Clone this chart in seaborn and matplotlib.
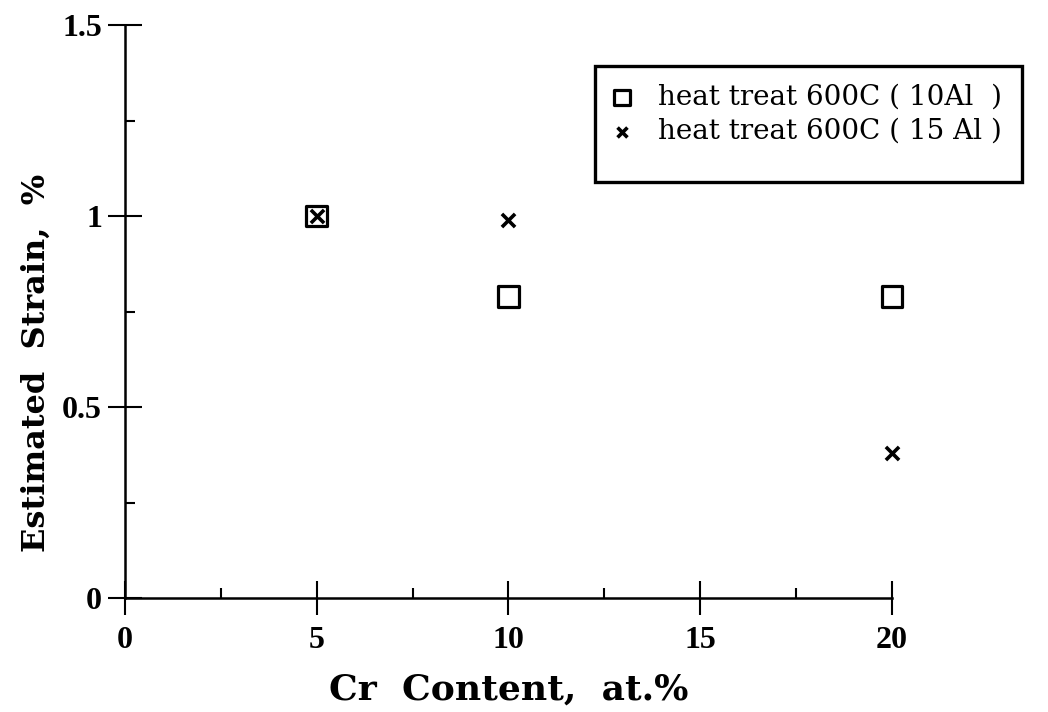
import matplotlib
matplotlib.use("Agg")
import matplotlib.pyplot as plt
import seaborn as sns
import pandas as pd
from matplotlib.ticker import MultipleLocator
from matplotlib.patches import Rectangle

# Data
cr_content = [5, 10, 20]
strain_10al = [1.0, 0.79, 0.79]
strain_15al = [1.0, 0.99, 0.38]
label_10al = "heat treat 600C ( 10Al  )"
label_15al = "heat treat 600C ( 15 Al )"
x_ticks = [0, 5, 10, 15, 20]
y_ticks = [0, 0.5, 1, 1.5]
y_ticklabels = ["0", "0.5", "1", "1.5"]

sns.set_theme(style="white")
plt.rcParams['font.family'] = ['Liberation Serif', 'DejaVu Serif']
plt.rcParams['text.color'] = 'black'
plt.rcParams['axes.labelcolor'] = 'black'

fig = plt.figure(figsize=(10.48, 7.12), dpi=100)
ax = fig.add_axes([125/1048, 1 - 598/712, (892-125)/1048, (598-25)/712])

df10 = pd.DataFrame({"x": cr_content, "y": strain_10al})
df15 = pd.DataFrame({"x": cr_content, "y": strain_15al})

sns.scatterplot(data=df10, x="x", y="y", ax=ax, marker="s", s=220,
                facecolors="none", edgecolor="black", linewidth=2.3,
                label=label_10al, clip_on=False, zorder=3)
sns.scatterplot(data=df15, x="x", y="y", ax=ax, marker="x", s=90,
                color="black", linewidth=2.6,
                label=label_15al, clip_on=False, zorder=4)

ax.set_xlim(0, 20)
ax.set_ylim(0, 1.5)
ax.set_xticks(x_ticks)
ax.set_xticklabels([str(t) for t in x_ticks])
ax.set_yticks(y_ticks)
ax.set_yticklabels(y_ticklabels)
ax.xaxis.set_minor_locator(MultipleLocator(2.5))
ax.yaxis.set_minor_locator(MultipleLocator(0.25))

for side in ["top", "right"]:
    ax.spines[side].set_visible(False)
for side in ["left", "bottom"]:
    ax.spines[side].set_color("black")
    ax.spines[side].set_linewidth(1.8)

ax.tick_params(axis="both", which="major", direction="inout", length=25,
               width=1.5, color="black", labelsize=23, labelcolor="black")
ax.tick_params(axis="x", which="major", pad=8)
ax.tick_params(axis="y", which="major", pad=4)
ax.tick_params(axis="both", which="minor", direction="in", length=7,
               width=1.5, color="black")
ax.tick_params(bottom=True, left=True, which="both")
for lab in ax.get_xticklabels() + ax.get_yticklabels():
    lab.set_fontfamily("Liberation Serif")
    lab.set_fontweight("bold")

ax.set_xlabel("Cr  Content,  at.%", fontsize=26, fontweight="bold",
              family="DejaVu Serif", labelpad=12, color="black")
ax.set_ylabel("Estimated  Strain,  %", fontsize=23, fontweight="bold",
              family="DejaVu Serif", color="black")
ax.yaxis.set_label_coords(-0.095, 0.41)

# legend (frame drawn separately below)
leg = ax.legend(loc="upper left", bbox_to_anchor=(609/1048, 1 - 84/712),
                bbox_transform=fig.transFigure, frameon=False,
                prop={"family": "DejaVu Serif", "size": 20},
                borderpad=0, handlelength=0.95, handletextpad=0.8,
                labelspacing=0.25, borderaxespad=0, markerscale=0.75)
for t in leg.get_texts():
    t.set_color("black")

fig.patches.append(Rectangle((595/1048, 1 - 182/712), (1022-595)/1048,
                             (182-66)/712, transform=fig.transFigure,
                             fill=False, edgecolor="black", linewidth=2.4,
                             zorder=5))

fig.savefig("out.png", dpi=100)
